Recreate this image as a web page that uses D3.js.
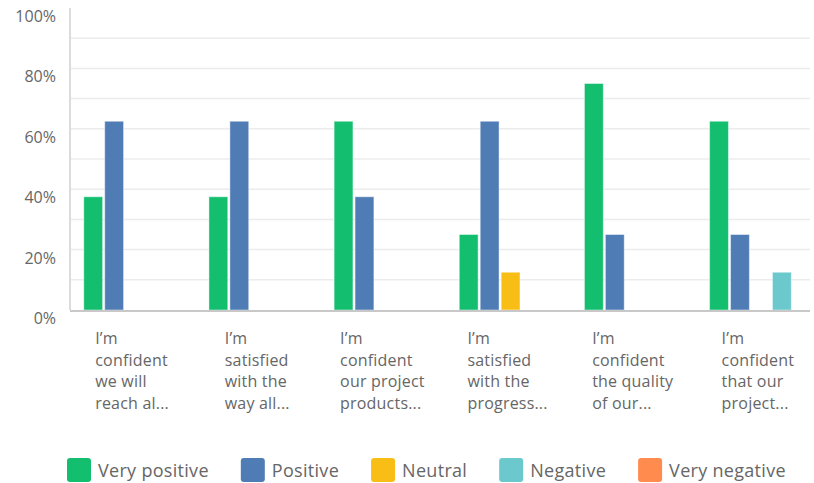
<!DOCTYPE html>
<html>
<head>
<meta charset="utf-8">
<script src="https://cdn.jsdelivr.net/npm/d3@7"></script>
<style>
	body { margin: 0; background: #fff; }
	svg text { font-family: "Open Sans", sans-serif; }
</style>
</head>
<body>
<svg id="chart" width="814" height="483"></svg>
<script>
(function(){
	// question labels, as shown (already wrapped / cut)
	var categories = ["q1", "q2", "q3", "q4", "q5", "q6"];
	var category_lines = [
		["I\u2019m", "confident", "we will", "reach al..."],
		["I\u2019m", "satisfied", "with the", "way all..."],
		["I\u2019m", "confident", "our project", "products..."],
		["I\u2019m", "satisfied", "with the", "progress..."],
		["I\u2019m", "confident", "the quality", "of our..."],
		["I\u2019m", "confident", "that our", "project..."]
	];

	var series_names = ["Very positive", "Positive", "Neutral", "Negative", "Very negative"];
	var series_colors = ["#13bf6f", "#507cb6", "#f9be16", "#6bc8cd", "#ff8b4f"];

	var very_positive = [37.5, 37.5, 62.5, 25, 75, 62.5];
	var positive      = [62.5, 62.5, 37.5, 62.5, 25, 25];
	var neutral       = [0, 0, 0, 12.5, 0, 0];
	var negative      = [0, 0, 0, 0, 0, 12.5];
	var very_negative = [0, 0, 0, 0, 0, 0];
	var series_values = [very_positive, positive, neutral, negative, very_negative];

	var y_ticks = [0, 20, 40, 60, 80, 100];
	var grid_ticks = [10, 20, 30, 40, 50, 60, 70, 80, 90];

	var svg = d3.select("#chart");

	var left = 70, right = 810, top = 8, bottom = 310;

	var y = d3.scaleLinear().domain([0, 100]).range([bottom, top]);

	var x0 = d3.scaleBand().domain(categories)
		.range([left, 826])
		.paddingInner(0.18)
		.paddingOuter(0.11);

	var x1 = d3.scaleBand().domain(series_names)
		.range([0, x0.bandwidth()])
		.paddingInner(0.1);

	// grid
	svg.append("g").selectAll("line")
		.data(grid_ticks)
		.enter().append("line")
		.attr("x1", left).attr("x2", right)
		.attr("y1", function(d){ return y(d); })
		.attr("y2", function(d){ return y(d); })
		.attr("stroke", "#ececec")
		.attr("stroke-width", 1.5);

	// left axis line
	svg.append("line")
		.attr("x1", left).attr("x2", left)
		.attr("y1", top).attr("y2", bottom)
		.attr("stroke", "#dcdcdc")
		.attr("stroke-width", 2);

	// y labels
	svg.append("g").selectAll("text")
		.data(y_ticks)
		.enter().append("text")
		.attr("x", 56)
		.attr("y", function(d){ return y(d) + 14; })
		.attr("text-anchor", "end")
		.attr("font-size", "16px")
		.attr("fill", "#666")
		.text(function(d){ return d + "%"; });

	// bars
	var groups = svg.append("g").selectAll("g")
		.data(categories)
		.enter().append("g")
		.attr("transform", function(d){ return "translate(" + x0(d) + ",0)"; });

	groups.selectAll("rect")
		.data(function(d, i){
			return series_names.map(function(s, j){
				return {name: s, value: series_values[j][i], color: series_colors[j]};
			}).filter(function(b){ return b.value > 0; });
		})
		.enter().append("rect")
		.attr("x", function(d){ return x1(d.name); })
		.attr("width", x1.bandwidth())
		.attr("y", function(d){ return y(d.value); })
		.attr("height", function(d){ return y(0) - y(d.value); })
		.attr("fill", function(d){ return d.color; })
		.attr("stroke", "#fff")
		.attr("stroke-opacity", 0.45)
		.attr("stroke-width", 1);

	// baseline
	svg.append("line")
		.attr("x1", left).attr("x2", right)
		.attr("y1", bottom + 1).attr("y2", bottom + 1)
		.attr("stroke", "#c8c8c8")
		.attr("stroke-width", 2);

	// x labels, block centred under group, lines left aligned
	categories.forEach(function(c, i){
		var g = svg.append("g");
		var texts = [];
		category_lines[i].forEach(function(line, k){
			texts.push(g.append("text")
				.attr("y", 344 + k * 21.7)
				.attr("font-size", "16px")
				.attr("letter-spacing", "0.2px")
				.attr("fill", "#666")
				.text(line));
		});
		var w = d3.max(texts, function(t){ return t.node().getComputedTextLength(); });
		var cx = x0(c) + x0.bandwidth() / 2 - 3;
		texts.forEach(function(t){ t.attr("x", cx - w / 2); });
	});

	// legend
	var lx = 67;
	series_names.forEach(function(s, j){
		svg.append("rect")
			.attr("x", lx).attr("y", 458)
			.attr("width", 24).attr("height", 24)
			.attr("rx", 3)
			.attr("fill", series_colors[j]);
		var t = svg.append("text")
			.attr("x", lx + 31)
			.attr("y", 477)
			.attr("font-size", "18px")
			.attr("letter-spacing", "0.3px")
			.attr("fill", "#666")
			.text(s);
		lx += 31 + t.node().getComputedTextLength() + 32;
	});
})();
</script>
</body>
</html>
